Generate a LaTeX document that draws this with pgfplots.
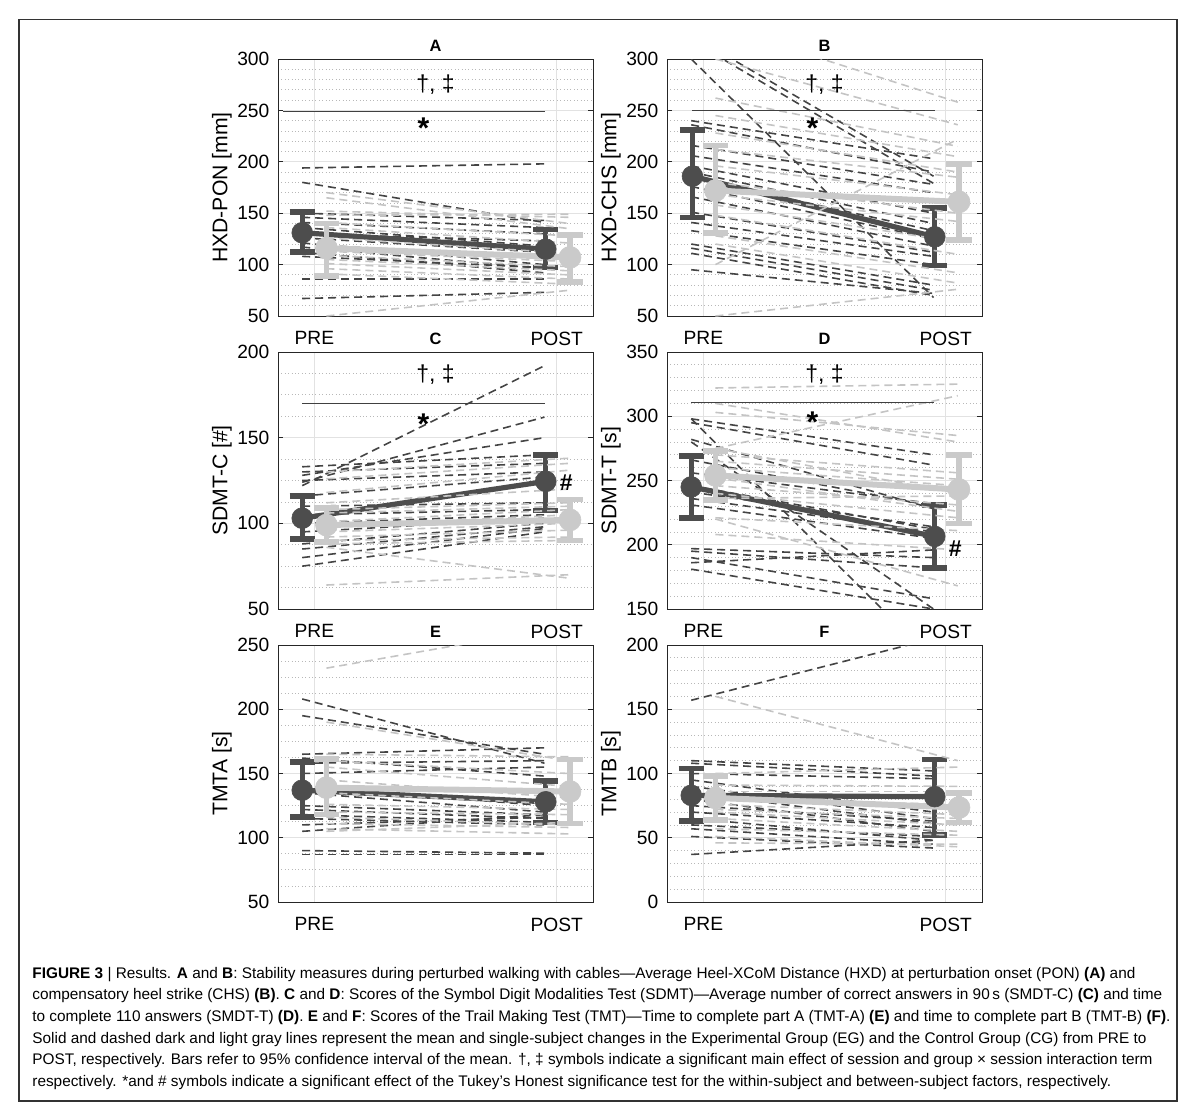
\documentclass[border=0pt]{standalone}
\usepackage{pgfplots}
\pgfplotsset{compat=1.18}
\usepackage{fontspec}
\setmainfont{Liberation Sans}
\definecolor{dk}{HTML}{4D4D4D}
\definecolor{dkd}{HTML}{444444}
\definecolor{lt}{HTML}{CACACA}
\definecolor{ltd}{HTML}{C4C4C4}
\definecolor{gmaj}{HTML}{E2E2E2}
\definecolor{gmin}{HTML}{B8B8B8}
\definecolor{axc}{HTML}{262626}
\newcommand\dkline[2]{\addplot[dkdash] coordinates {(0.95,#1) (1.95,#2)};}
\newcommand\ltline[2]{\addplot[ltdash] coordinates {(1.05,#1) (2.05,#2)};}
\pgfplotsset{
  panel/.style={width=157.5pt, height=128.5pt, scale only axis,
    xmin=0.85, xmax=2.15, xtick={1,2}, xticklabels={PRE,POST},
    grid=both,
    major grid style={draw=gmaj, line width=0.5pt},
    minor grid style={draw=gmin, line width=0.4pt, dash pattern=on 0.5pt off 1.2pt},
    axis line style={draw=axc, line width=0.5pt},
    tick style={draw=axc, line width=0.5pt},
    major tick length=2.5pt, minor tick length=0pt, tick align=inside,
    xtick style={draw=none},
    ticklabel style={font=\fontsize{9.6}{11}\selectfont},
    /pgf/number format/assume math mode=true,
    xticklabel style={yshift=-4.3pt},
    yticklabel style={xshift=-0.8pt},
    every axis y label/.style={at={(axis description cs:-0.178,0.5)}, rotate=90, anchor=center, font=\fontsize{10.6}{12}\selectfont},
    title style={at={(0.5,1)}, anchor=base, yshift=-2pt, font=\bfseries\fontsize{8.2}{10}\selectfont},
    clip=true,
  },
  dkdash/.style={color=dkd, dash pattern=on 4pt off 2.5pt, line width=0.8pt, mark=none},
  ltdash/.style={color=ltd, dash pattern=on 4pt off 2.5pt, line width=0.8pt, mark=none},
  dkmean/.style={color=dk, line width=2.6pt, mark=*, mark size=5.2pt,
    mark options={solid, fill=dk, draw=dk, line width=0.3pt},
    error bars/.cd, y dir=both, y explicit, error mark=|,
    error bar style={line width=2.6pt, draw=dk},
    error mark options={line width=2.8pt, mark size=6.3pt, draw=dk}},
  ltmean/.style={color=lt, line width=3pt, mark=*, mark size=5.5pt,
    mark options={solid, fill=lt, draw=lt, line width=0.3pt},
    error bars/.cd, y dir=both, y explicit, error mark=|,
    error bar style={line width=2.6pt, draw=lt},
    error mark options={line width=2.8pt, mark size=6.3pt, draw=lt}},
}
\newcommand\sig[5]{% x0, x1, line y, dagger y, star y
  \draw[line width=0.5pt, draw=black!75] (axis cs:#1,#3) -- (axis cs:#2,#3);
  \node[font=\fontsize{11.5}{13}\selectfont, inner sep=0pt] at (axis cs:1.5,#4) {†, ‡};
  \node[font=\bfseries\fontsize{15}{16}\selectfont, anchor=base, yshift=-8.6pt, inner sep=0pt] at (axis cs:1.45,#5) {*};
}
\begin{document}
\begin{tikzpicture}
\useasboundingbox (0,0) rectangle (597.5pt,-559.5pt);
\draw[line width=0.7pt, draw=black!80] (9.5pt,-9.75pt) rectangle (588.5pt,-550.5pt);

% ---------- A ----------
\begin{axis}[panel, at={(139pt,-158pt)}, anchor=south west,
  ymin=50, ymax=300, ytick={50,100,...,300}, minor y tick num=4,
  title={A}, ylabel={HXD-PON [mm]}]
\dkline{194}{198}\dkline{180}{141}\dkline{150}{143}\dkline{146}{136}\dkline{141}{130}
\dkline{136}{118}\dkline{130}{123}\dkline{126}{112}\dkline{121}{100}\dkline{117}{96}
\dkline{112}{92}\dkline{108}{97}\dkline{86}{86}\dkline{67}{73}
\addplot[dkmean] coordinates {(0.95,131) += (0,20) -= (0,19) (1.955,115) += (0,19) -= (0,18)};
\ltline{170}{140}\ltline{165}{135}\ltline{152}{146}\ltline{148}{149}\ltline{141}{128}
\ltline{136}{121}\ltline{126}{111}\ltline{119}{105}\ltline{113}{103}\ltline{109}{98}
\ltline{105}{94}\ltline{101}{90}\ltline{96}{86}\ltline{91}{81}\ltline{50}{75}
\addplot[ltmean] coordinates {(1.05,116) += (0,24) -= (0,27) (2.055,107) += (0,22) -= (0,24)};
\sig{0.87}{1.95}{249.4}{275}{239}
\end{axis}

% ---------- B ----------
\begin{axis}[panel, at={(333.5pt,-158pt)}, anchor=south west,
  ymin=50, ymax=300, ytick={50,100,...,300}, minor y tick num=4,
  title={B}, ylabel={HXD-CHS [mm]}]
\dkline{323}{186}\dkline{318}{179}\dkline{300}{68}\dkline{240}{203}\dkline{236}{190}
\dkline{216}{178}\dkline{206}{170}\dkline{196}{150}\dkline{190}{140}\dkline{185}{133}
\dkline{176}{125}\dkline{166}{118}\dkline{151}{112}\dkline{141}{108}\dkline{133}{100}
\dkline{120}{80}\dkline{116}{75}\dkline{111}{70}\dkline{95}{72}
\addplot[dkmean] coordinates {(0.955,186) += (0,45) -= (0,40) (1.955,127) += (0,28) -= (0,28)};
\ltline{333}{258}\ltline{300}{236}\ltline{262}{215}\ltline{245}{205}
\ltline{228}{190}\ltline{212}{185}\ltline{196}{168}\ltline{180}{150}\ltline{168}{142}
\ltline{158}{122}\ltline{148}{110}\ltline{100}{222}\ltline{128}{92}\ltline{120}{82}\ltline{50}{76}
\addplot[ltmean] coordinates {(1.05,172) += (0,44) -= (0,41) (2.055,161) += (0,37) -= (0,37)};
\sig{0.955}{1.955}{250}{275}{239}
\end{axis}

% ---------- C ----------
\begin{axis}[panel, at={(139pt,-304.5pt)}, anchor=south west,
  ymin=50, ymax=200, ytick={50,100,...,200}, minor y tick num=3,
  title={C}, ylabel={SDMT-C [\#]}]
\dkline{122}{192}\dkline{124}{162}\dkline{128}{150}\dkline{133}{140}\dkline{130}{135}
\dkline{125}{130}\dkline{116}{127}\dkline{110}{112}\dkline{105}{108}\dkline{100}{105}
\dkline{95}{103}\dkline{88}{100}\dkline{85}{98}\dkline{80}{97}\dkline{75}{95}
\addplot[dkmean] coordinates {(0.95,103) += (0,13) -= (0,12) (1.955,124.5) += (0,15.5) -= (0,17)};
\ltline{130}{138}\ltline{126}{135}\ltline{118}{131}\ltline{112}{120}\ltline{108}{112}
\ltline{106}{110}\ltline{101}{108}\ltline{98}{105}\ltline{95}{100}\ltline{92}{96}
\ltline{90}{92}\ltline{88}{90}\ltline{86}{68}\ltline{64}{70}
\addplot[ltmean] coordinates {(1.05,99) += (0,10) -= (0,10) (2.055,102) += (0,12) -= (0,12)};
\sig{0.95}{1.95}{170}{186.7}{162}
\node[font=\bfseries\fontsize{11.5}{13}\selectfont] at (axis cs:2.04,123.5) {\#};
\end{axis}

% ---------- D ----------
\begin{axis}[panel, at={(333.5pt,-304.5pt)}, anchor=south west,
  ymin=150, ymax=350, ytick={150,200,...,350}, minor y tick num=4,
  title={D}, ylabel={SDMT-T [s]}]
\dkline{298}{270}\dkline{298}{110}\dkline{295}{262}\dkline{282}{228}\dkline{280}{150}
\dkline{266}{230}\dkline{256}{232}\dkline{246}{212}\dkline{241}{214}\dkline{236}{210}
\dkline{231}{205}\dkline{197}{190}\dkline{195}{182}\dkline{190}{158}\dkline{186}{196}\dkline{181}{150}
\addplot[dkmean] coordinates {(0.95,245) += (0,24) -= (0,24) (1.955,206.5) += (0,24.5) -= (0,24.5)};
\ltline{322}{325}\ltline{310}{280}\ltline{303}{285}\ltline{275}{316}\ltline{275}{240}
\ltline{270}{256}\ltline{265}{251}\ltline{260}{246}\ltline{252}{226}\ltline{246}{231}
\ltline{240}{221}\ltline{236}{238}\ltline{221}{211}\ltline{220}{168}\ltline{208}{196}
\addplot[ltmean] coordinates {(1.05,254) += (0,19) -= (0,19) (2.055,243) += (0,27) -= (0,26.5)};
\sig{0.95}{1.95}{311}{332}{301}
\node[font=\bfseries\fontsize{11.5}{13}\selectfont] at (axis cs:2.04,197) {\#};
\end{axis}

% ---------- E ----------
\begin{axis}[panel, at={(139pt,-451pt)}, anchor=south west,
  ymin=50, ymax=250, ytick={50,100,...,250}, minor y tick num=3,
  title={E}, ylabel={TMTA [s]}]
\dkline{208}{158}\dkline{195}{165}\dkline{165}{170}\dkline{162}{148}\dkline{158}{160}
\dkline{150}{155}\dkline{140}{125}\dkline{135}{120}\dkline{125}{118}\dkline{122}{115}
\dkline{118}{112}\dkline{115}{110}\dkline{110}{116}\dkline{105}{118}\dkline{90}{88}\dkline{87}{87}
\addplot[dkmean] coordinates {(0.95,137) += (0,22) -= (0,21) (1.955,128) += (0,16) -= (0,16)};
\ltline{232}{265}\ltline{190}{160}\ltline{165}{163}\ltline{160}{150}\ltline{155}{140}
\ltline{145}{131}\ltline{135}{126}\ltline{126}{122}\ltline{120}{118}\ltline{116}{110}
\ltline{111}{108}\ltline{107}{103}\ltline{105}{112}
\addplot[ltmean] coordinates {(1.05,139) += (0,22.5) -= (0,21) (2.055,136) += (0,25) -= (0,25)};
\end{axis}

% ---------- F ----------
\begin{axis}[panel, at={(333.5pt,-451pt)}, anchor=south west,
  ymin=0, ymax=200, ytick={0,50,...,200}, minor y tick num=4,
  title={F}, ylabel={TMTB [s]}]
\dkline{157}{205}\dkline{110}{102}\dkline{108}{98}\dkline{100}{96}\dkline{95}{70}
\dkline{90}{65}\dkline{85}{61}\dkline{80}{55}\dkline{75}{63}\dkline{70}{58}
\dkline{65}{48}\dkline{60}{51}\dkline{57}{45}\dkline{51}{42}\dkline{37}{48}
\addplot[dkmean] coordinates {(0.95,83) += (0,21) -= (0,20) (1.955,82) += (0,29) -= (0,30)};
\ltline{160}{110}\ltline{100}{105}\ltline{91}{90}\ltline{86}{86}\ltline{80}{76}
\ltline{76}{68}\ltline{72}{65}\ltline{70}{60}\ltline{65}{55}\ltline{57}{52}\ltline{51}{43}\ltline{46}{45}
\addplot[ltmean] coordinates {(1.05,81) += (0,17) -= (0,17) (2.055,73.5) += (0,11.5) -= (0,11.5)};
\end{axis}

% ---------- caption ----------
\begin{scope}[every node/.style={anchor=base west, inner sep=0pt, font=\fontsize{7.68}{10}\selectfont}]
\node at (16pt,-489pt) {\textbf{FIGURE 3} | Results. \textbf{A} and \textbf{B}: Stability measures during perturbed walking with cables—Average Heel-XCoM Distance (HXD) at perturbation onset (PON) \textbf{(A)} and};
\node at (16pt,-499.85pt) {compensatory heel strike (CHS) \textbf{(B)}. \textbf{C} and \textbf{D}: Scores of the Symbol Digit Modalities Test (SDMT)—Average number of correct answers in 90\,s (SMDT-C) \textbf{(C)} and time};
\node at (16pt,-510.7pt) {to complete 110 answers (SMDT-T) \textbf{(D)}. \textbf{E} and \textbf{F}: Scores of the Trail Making Test (TMT)—Time to complete part A (TMT-A) \textbf{(E)} and time to complete part B (TMT-B) \textbf{(F)}.};
\node at (16pt,-521.55pt) {Solid and dashed dark and light gray lines represent the mean and single-subject changes in the Experimental Group (EG) and the Control Group (CG) from PRE to};
\node at (16pt,-532.4pt) {POST, respectively. Bars refer to 95\% confidence interval of the mean. †, ‡ symbols indicate a significant main effect of session and group × session interaction term};
\node at (16pt,-543.25pt) {respectively. *and \# symbols indicate a significant effect of the Tukey’s Honest significance test for the within-subject and between-subject factors, respectively.};
\end{scope}
\end{tikzpicture}
\end{document}
